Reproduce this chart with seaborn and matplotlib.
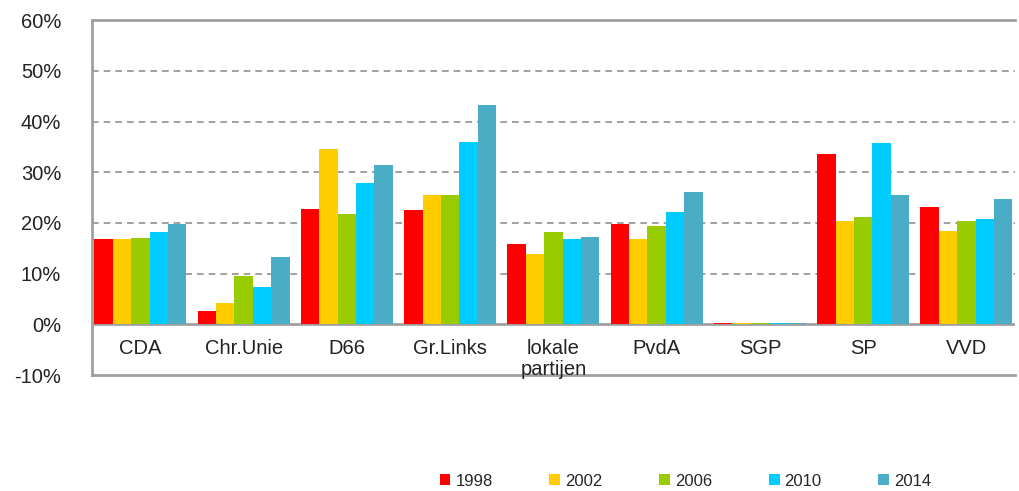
import numpy as np
import pandas as pd
import seaborn as sns
import matplotlib.pyplot as plt
from matplotlib.ticker import FuncFormatter

parties = ["CDA", "Chr.Unie", "D66", "Gr.Links", "lokale\npartijen", "PvdA", "SGP", "SP", "VVD"]
years = ["1998", "2002", "2006", "2010", "2014"]

# percentage per party, one list per election year
v1998 = [16.8, 2.7, 22.8, 22.5, 15.9, 19.8, 0.2, 33.7, 23.1]
v2002 = [16.8, 4.3, 34.6, 25.5, 13.8, 16.9, 0.2, 20.3, 18.5]
v2006 = [17.0, 9.6, 21.8, 25.5, 18.2, 19.4, 0.2, 21.2, 20.3]
v2010 = [18.3, 7.3, 27.8, 36.0, 16.9, 22.1, 0.2, 35.7, 20.7]
v2014 = [19.8, 13.3, 31.4, 43.3, 17.2, 26.1, 0.2, 25.5, 24.7]

colors = ["#FF0000", "#FFCC00", "#99CC00", "#00CCFF", "#4BACC6"]

df = pd.DataFrame({
    "partij": parties * 5,
    "jaar": np.repeat(years, len(parties)),
    "pct": v1998 + v2002 + v2006 + v2010 + v2014,
})

sns.set_style("white")
plt.rcParams["font.family"] = ["Liberation Sans", "DejaVu Sans"]

fig = plt.figure(figsize=(10.2, 4.91), dpi=100)
ax = fig.add_axes([0.09, 0.236, 0.905, 0.723])

sns.barplot(data=df, x="partij", y="pct", hue="jaar", palette=colors,
            saturation=1, width=0.89, ax=ax, legend=True, edgecolor="none")

ax.set_ylim(-10, 60)
ax.set_yticks(range(-10, 61, 10))
ax.yaxis.set_major_formatter(FuncFormatter(lambda v, p: f"{v:.0f}%"))
ax.set_xlim(-0.47, len(parties) - 0.53)

for y in range(10, 60, 10):
    ax.axhline(y, color="#909090", lw=1.2, ls=(0, (4, 3)), zorder=0)
ax.axhline(0, color="#A0A0A0", lw=2, zorder=0)

# category labels sit inside the plot, under the zero line
ax.set_xticks([])
ax.set_xlabel("")
ax.set_ylabel("")
for i, name in enumerate(parties):
    ax.text(i, -2.8, name, ha="center", va="top", fontsize=14.5, color="#222222",
            linespacing=1.15)

ax.tick_params(axis="y", labelsize=14.5, colors="#222222", length=0, pad=22)
for side in ["left", "top", "bottom"]:
    ax.spines[side].set_color("#A0A0A0")
    ax.spines[side].set_linewidth(2)
ax.spines["right"].set_visible(False)

handles, labels = ax.get_legend_handles_labels()
ax.legend_.remove()
fig.legend(handles, labels, loc="center", bbox_to_anchor=(0.672, 0.02), ncol=5,
           frameon=False, fontsize=12, handlelength=0.65, handleheight=0.65,
           handletextpad=0.3, columnspacing=3.4)

fig.savefig("out.png", dpi=100)
